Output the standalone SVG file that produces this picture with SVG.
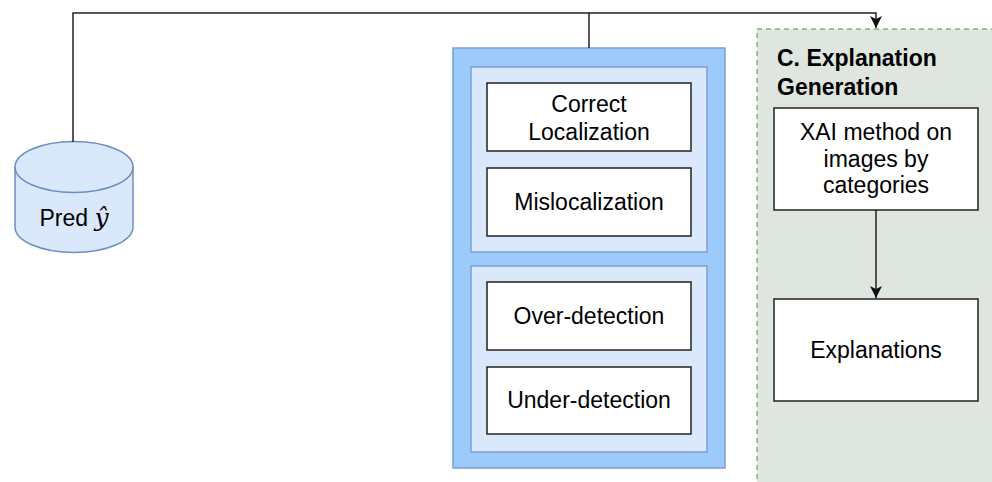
<svg xmlns="http://www.w3.org/2000/svg" width="992" height="482" viewBox="0 0 992 482">
<style>
text{font-family:"Liberation Sans",Arial,sans-serif;font-size:23px;fill:#000;text-anchor:middle}
.box{fill:#fff;stroke:#222;stroke-width:1.5}
.conn{fill:none;stroke:#222;stroke-width:1.5}
.title{font-weight:bold;text-anchor:start}
</style>
<defs>
<marker id="arr" viewBox="0 0 12 12" refX="12" refY="6" markerWidth="12" markerHeight="12" markerUnits="userSpaceOnUse" orient="auto">
<path d="M0,0 L12,6 L0,12 L3,6 Z" fill="#111"/>
</marker>
</defs>
<g id="groupC">
<rect x="757" y="29" width="250" height="470" fill="#dfe6df" stroke="#82b366" stroke-width="1.5" stroke-dasharray="5,4"/>
<text class="title" x="777" y="66">C. Explanation</text>
<text class="title" x="777" y="95">Generation</text>
</g>
<g id="categories">
<rect x="453" y="48" width="272" height="420" fill="#9ccbfb" stroke="#7e9fcf" stroke-width="1.5"/>
<rect x="471" y="67" width="236" height="185" fill="#dae8fc" stroke="#7e9fcf" stroke-width="1.5"/>
<rect x="471" y="266" width="236" height="186" fill="#dae8fc" stroke="#7e9fcf" stroke-width="1.5"/>
</g>
<g id="pred">
<path d="M15,167 A59,25.5 0 0 1 133,167 L133,227 A59,25.5 0 0 1 15,227 Z" fill="#dae8fc" stroke="#6c8ebf" stroke-width="1.5"/>
<path d="M15,167 A59,25.5 0 0 0 133,167" fill="none" stroke="#6c8ebf" stroke-width="1.5"/>
<text x="74" y="226">Pred <tspan font-family="'DejaVu Serif','Liberation Serif',serif" font-style="italic" font-size="25">ŷ</tspan></text>
</g>
<g id="correct">
<rect class="box" x="487" y="83" width="204" height="68"/>
<text x="589" y="112">Correct</text>
<text x="589" y="140">Localization</text>
</g>
<g id="mislocalization">
<rect class="box" x="487" y="168" width="204" height="68"/>
<text x="589" y="210">Mislocalization</text>
</g>
<g id="over">
<rect class="box" x="487" y="282" width="204" height="68"/>
<text x="589" y="324">Over-detection</text>
</g>
<g id="under">
<rect class="box" x="487" y="367" width="204" height="67"/>
<text x="589" y="408">Under-detection</text>
</g>
<g id="xai">
<rect class="box" x="774" y="108" width="204" height="102"/>
<text x="876" y="140">XAI method on</text>
<text x="876" y="167">images by</text>
<text x="876" y="193">categories</text>
</g>
<g id="explanations">
<rect class="box" x="774" y="299" width="204" height="102"/>
<text x="876" y="358">Explanations</text>
</g>
<g id="connectors">
<path class="conn" d="M73,142 V13 H876 V28" marker-end="url(#arr)"/>
<path class="conn" d="M589,48 V13"/>
<path class="conn" d="M876,210 V298" marker-end="url(#arr)"/>
</g>
</svg>
